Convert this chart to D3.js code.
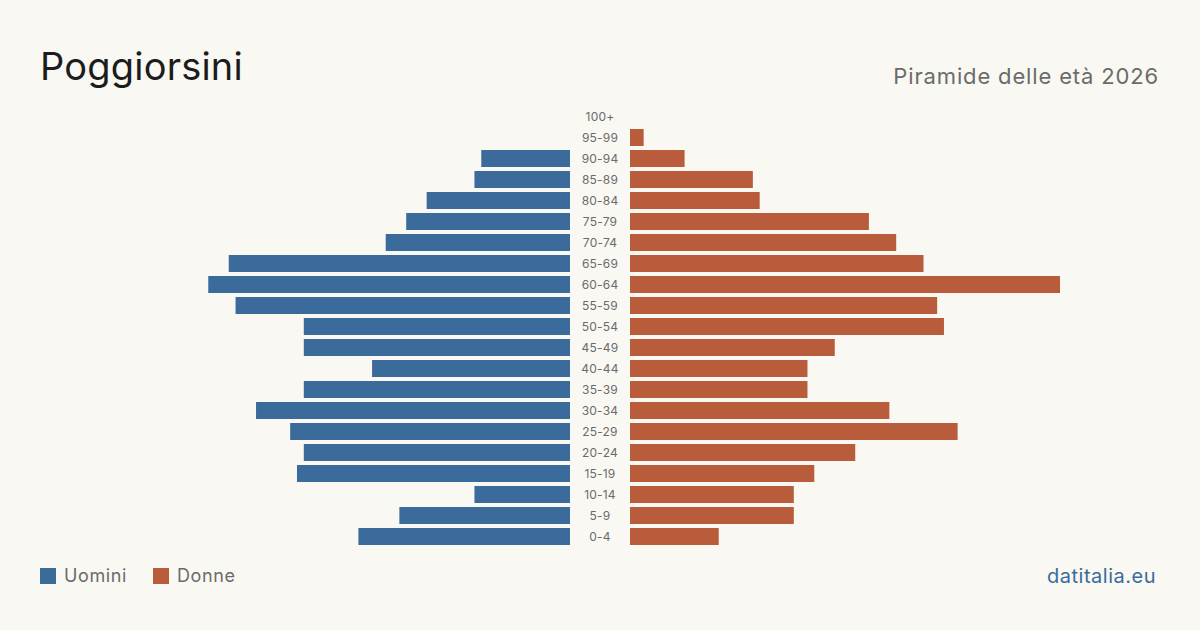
<!DOCTYPE html>
<html>
<head>
<meta charset="utf-8">
<script src="https://cdn.jsdelivr.net/npm/d3@7/dist/d3.min.js"></script>
<style>
  body { margin: 0; background: #f9f8f3; }
  svg { display: block; font-family: Inter, "Noto Sans", sans-serif; }
</style>
</head>
<body>
<svg id="chart" width="1200" height="630"></svg>
<script>
// age classes, top to bottom
var ages = ['100+', '95-99', '90-94', '85-89', '80-84', '75-79', '70-74', '65-69', '60-64',
    '55-59', '50-54', '45-49', '40-44', '35-39', '30-34', '25-29', '20-24', '15-19',
    '10-14', '5-9', '0-4'];
var men = [0, 0, 13, 14, 21, 24, 27, 50, 53, 49, 39, 39, 29, 39, 46, 41, 39, 40, 14, 25, 31];
var women = [0, 2, 8, 18, 19, 35, 39, 43, 63, 45, 46, 30, 26, 26, 38, 48, 33, 27, 24, 24, 13];

var svg = d3.select('#chart');
var W = 1200, H = 630;
var cx = 600, gap = 30, half = 430;

svg.append('rect').attr('width', W).attr('height', H).attr('fill', '#f9f8f3');

var maxV = d3.max(men.concat(women));
var x = d3.scaleLinear().domain([0, maxV]).range([0, half]);
// band of 17px with 4px gaps
var y = d3.scaleBand().domain(ages)
    .range([108, 108 + 21 * ages.length - 4])
    .paddingInner(4 / 21).paddingOuter(0);

var g = svg.append('g');

g.selectAll('.m')
    .data(ages)
    .enter()
    .append('rect')
    .attr('class', 'm')
    .attr('x', function(a, i) { return cx - gap - x(men[i]); })
    .attr('y', function(a) { return y(a); })
    .attr('width', function(a, i) { return x(men[i]); })
    .attr('height', y.bandwidth())
    .attr('fill', '#3b6b9b');

g.selectAll('.f')
    .data(ages)
    .enter()
    .append('rect')
    .attr('class', 'f')
    .attr('x', cx + gap)
    .attr('y', function(a) { return y(a); })
    .attr('width', function(a, i) { return x(women[i]); })
    .attr('height', y.bandwidth())
    .attr('fill', '#b95c3b');

g.selectAll('.lab')
    .data(ages)
    .enter()
    .append('text')
    .attr('class', 'lab')
    .attr('x', cx)
    .attr('y', function(a) { return y(a) + y.bandwidth() / 2; })
    .attr('dy', '0.35em')
    .attr('text-anchor', 'middle')
    .attr('font-size', 12)
    .attr('letter-spacing', 0.2)
    .attr('fill', '#6b6b6b')
    .text(function(a) { return a; });

// title and subtitle
svg.append('text')
    .attr('x', 40).attr('y', 80)
    .attr('font-size', 38)
    .attr('letter-spacing', 0.2)
    .attr('fill', '#1c1c1c')
    .text('Poggiorsini');

svg.append('text')
    .attr('x', 1159).attr('y', 84)
    .attr('text-anchor', 'end')
    .attr('font-size', 22)
    .attr('letter-spacing', 0.85)
    .attr('fill', '#6b6b6b')
    .text('Piramide delle età 2026');

// legend
var legend = [['Uomini', '#3b6b9b', 40], ['Donne', '#b95c3b', 153]];
var lg = svg.selectAll('.leg')
    .data(legend)
    .enter()
    .append('g')
    .attr('class', 'leg')
    .attr('transform', function(d) { return 'translate(' + d[2] + ',568)'; });
lg.append('rect').attr('width', 16).attr('height', 16).attr('fill', function(d) { return d[1]; });
lg.append('text')
    .attr('x', 24).attr('y', 8).attr('dy', '0.35em')
    .attr('font-size', 18)
    .attr('letter-spacing', 0.6)
    .attr('fill', '#6b6b6b')
    .text(function(d) { return d[0]; });

svg.append('text')
    .attr('x', 1156).attr('y', 583)
    .attr('text-anchor', 'end')
    .attr('font-size', 20)
    .attr('letter-spacing', 0.5)
    .attr('fill', '#3b6b9b')
    .text('datitalia.eu');
</script>
</body>
</html>
